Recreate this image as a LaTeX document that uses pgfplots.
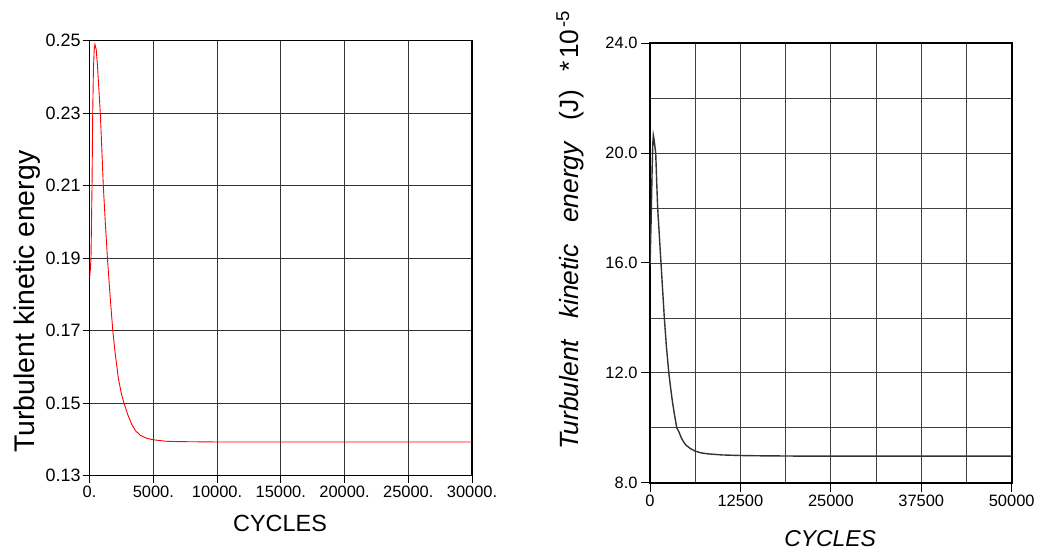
\documentclass[border=0pt]{standalone}
\usepackage{fontspec}
\setmainfont{Liberation Sans}
\usepackage{pgfplots}
\pgfplotsset{compat=1.18}
\pgfplotstableread{
x y
0 0.1845
60 0.1870
110 0.1900
190 0.2100
245 0.2300
300 0.2420
360 0.2475
420 0.2490
520 0.2475
620 0.2430
730 0.2365
840 0.2300
960 0.2200
1075 0.2100
1230 0.2000
1400 0.1900
1600 0.1800
1820 0.1700
2000 0.1640
2250 0.1570
2500 0.1525
2700 0.1500
3000 0.1468
3300 0.1442
3600 0.1424
4000 0.1411
4500 0.1403
5000 0.1399
6000 0.1395
7000 0.1394
10000 0.1393
30000 0.1393
}\lefttable
\pgfplotstableread{
x y
0 15.9
150 17.5
300 19.5
400 20.4
460 20.65
560 20.5
790 20.0
920 19.0
1060 18.0
1290 17.0
1520 16.0
1750 15.0
1980 14.0
2270 12.95
2600 12.0
2850 11.45
3100 10.95
3400 10.45
3700 10.0
4000 9.85
4300 9.65
4650 9.48
5000 9.36
5600 9.24
6250 9.15
7000 9.09
8000 9.05
9000 9.03
10000 9.01
12500 8.99
15000 8.98
20000 8.97
50000 8.97
}\righttable
\begin{document}
\begin{tikzpicture}
\useasboundingbox (0,0) rectangle (1042bp,553bp);
\begin{axis}[
  at={(89.6bp,77.3bp)}, anchor=south west,
  scale only axis, width=382.4bp, height=435bp,
  xmin=0, xmax=30000, ymin=0.13, ymax=0.25,
  xtick={0,5000,10000,15000,20000,25000,30000},
  xticklabels={0.,5000.,10000.,15000.,20000.,25000.,30000.},
  ytick={0.13,0.15,0.17,0.19,0.21,0.23,0.25},
  yticklabels={0.13,0.15,0.17,0.19,0.21,0.23,0.25},
  scaled ticks=false,
  grid=major, major grid style={black!80, line width=1bp},
  axis line style={black, line width=1.2bp},
  tick align=outside, major tick length=7bp,
  tick style={black, line width=1bp},
  xtick pos=lower, ytick pos=left,
  xticklabel style={font=\fontsize{16.5}{18}\selectfont},
  yticklabel style={font=\fontsize{18}{20}\selectfont, xshift=1.5bp},
  xlabel={CYCLES}, ylabel={Turbulent kinetic energy},
  xlabel style={font=\fontsize{23.5}{26}\selectfont, at={(axis description cs:0.498,-0.109)}, anchor=center},
  ylabel style={font=\fontsize{28.5}{30}\selectfont, at={(axis description cs:-0.164,0.4)}, anchor=center},
]
\addplot[red, line width=0.9bp] table[x=x,y=y] {\lefttable};
\end{axis}
\begin{axis}[
  at={(650bp,70.3bp)}, anchor=south west,
  scale only axis, width=361.7bp, height=439.4bp,
  xmin=0, xmax=50000, ymin=8, ymax=24,
  xtick={0,12500,25000,37500,50000},
  xticklabels={0,12500,25000,37500,50000},
  minor xtick={6250,18750,31250,43750},
  ytick={8,12,16,20,24},
  yticklabels={8.0,12.0,16.0,20.0,24.0},
  minor ytick={10,14,18,22},
  scaled ticks=false,
  grid=both, major grid style={black!75, line width=0.8bp},
  minor grid style={black!75, line width=0.8bp},
  minor tick length=0pt,
  axis line style={black, line width=2bp},
  tick align=outside, major tick length=9bp,
  tick style={black, line width=1bp},
  xtick pos=lower, ytick pos=left,
  ticklabel style={font=\fontsize{16.5}{18}\selectfont},
  xlabel={\itshape CYCLES},
  ylabel={{\itshape Turbulent\hspace{0.8em}kinetic\hspace{0.8em}energy}\hspace{0.8em}(J)\hspace{0.7em}*\hspace{0.1em}10\textsuperscript{\hspace{0.1em}-5}},
  xlabel style={font=\fontsize{23}{26}\selectfont, at={(axis description cs:0.498,-0.128)}, anchor=center},
  ylabel style={font=\fontsize{26.5}{28}\selectfont, at={(axis description cs:-0.221,0.575)}, anchor=center},
]
\addplot[black!80, line width=1.4bp] table[x=x,y=y] {\righttable};
\end{axis}
\end{tikzpicture}
\end{document}
